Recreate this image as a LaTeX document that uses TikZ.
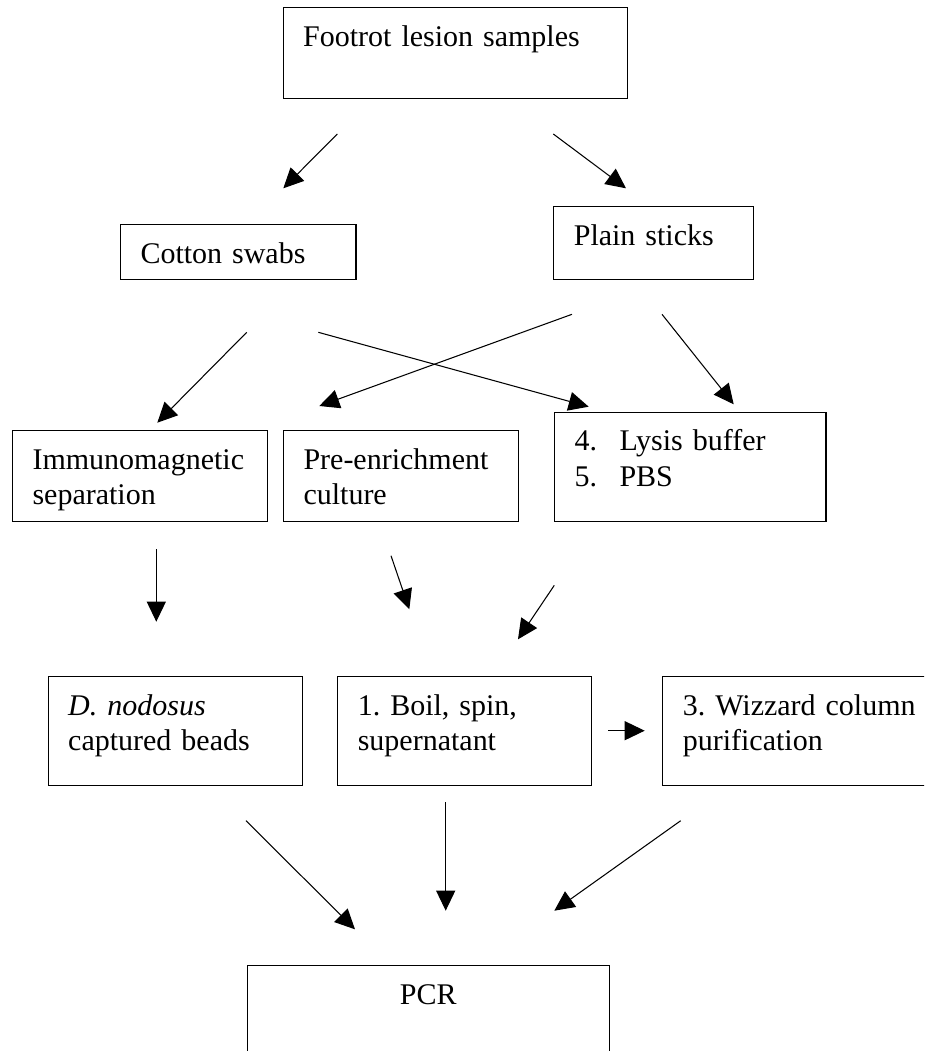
\documentclass[tikz,border=0pt]{standalone}
\usepackage{fontspec}
\setmainfont{Liberation Serif}
\usetikzlibrary{arrows.meta}
\frenchspacing

\begin{document}
\begin{tikzpicture}[x=0.02cm, y=-0.02cm,
  stepbox/.style={draw, line width=0.6pt, anchor=north west, align=left,
    inner xsep=0.4cm, inner ysep=0pt, text height=0.77cm,
    font=\fontsize{17.07pt}{20.1pt}\selectfont},
  arr/.style={-{Triangle[length=0.4cm,width=0.38cm]}, line width=0.6pt}
]
\useasboundingbox (0,0) rectangle (924,1051);
\clip (0,0) rectangle (924,1051);

\node[stepbox, text width=6.08cm, text depth=1.05cm] (lesion) at (282.7,7.3) {Footrot lesion samples};
\node[stepbox, text width=3.91cm, text depth=0.324cm] (cotton) at (120,224) {Cotton swabs};
\node[stepbox, text width=3.19cm, text depth=0.684cm] (sticks) at (553.3,206) {Plain sticks};
\node[stepbox, text width=4.30cm, text depth=1.044cm] (ims) at (12,430) {Immunomagnetic\\separation};
\node[stepbox, text width=3.90cm, text depth=1.044cm] (culture) at (283,430) {Pre-enrichment\\culture};
\node[stepbox, text width=4.63cm, text depth=1.41cm] (lysis) at (554,411.7) {\makebox[0.9cm][l]{4.}Lysis buffer\\\makebox[0.9cm][l]{5.}PBS};
\node[stepbox, text width=4.28cm, text depth=1.404cm] (beads) at (47.7,676) {\textit{D. nodosus}\\captured beads};
\node[stepbox, text width=4.27cm, text depth=1.404cm] (boil) at (337.3,676) {1. Boil, spin,\\supernatant};
\node[stepbox, text width=5.2cm, text depth=1.404cm] (wizard) at (662.3,676) {3. Wizzard column\\purification};
\node[stepbox, align=center, text width=6.44cm, text depth=2cm] (pcr) at (246.7,965.3) {PCR};

\coordinate (lesion-l) at (337.3,134);
\coordinate (lesion-r) at (553.3,134);
\coordinate (cotton-in) at (283.3,188.3);
\coordinate (sticks-in) at (626,188.3);
\coordinate (cotton-l) at (246.7,332.3);
\coordinate (cotton-r) at (318.3,332.3);
\coordinate (sticks-l) at (572,314.3);
\coordinate (sticks-r) at (662,314.3);
\coordinate (ims-in) at (157.3,422.7);
\coordinate (culture-in) at (319.3,406);
\coordinate (lysis-inl) at (588.7,406.7);
\coordinate (lysis-inr) at (733.7,404.3);
\coordinate (ims-out) at (156.3,549.3);
\coordinate (culture-out) at (391,555.7);
\coordinate (lysis-out) at (554.3,585.3);
\coordinate (beads-in) at (156.3,621.7);
\coordinate (boil-inl) at (409.3,609.3);
\coordinate (boil-inr) at (518,639.3);
\coordinate (boil-r) at (608,730.7);
\coordinate (wizard-in) at (644.7,730.7);
\coordinate (beads-out) at (246,820.7);
\coordinate (boil-out) at (445.7,802.3);
\coordinate (wizard-out) at (680.7,820.7);
\coordinate (pcr-inl) at (355,929.3);
\coordinate (pcr-inm) at (445.7,910.7);
\coordinate (pcr-inr) at (554.3,910.7);

\draw[arr] (lesion-l) -- (cotton-in);
\draw[arr] (lesion-r) -- (sticks-in);
\draw[arr] (cotton-l) -- (ims-in);
\draw[arr] (cotton-r) -- (lysis-inl);
\draw[arr] (sticks-l) -- (culture-in);
\draw[arr] (sticks-r) -- (lysis-inr);
\draw[arr] (ims-out) -- (beads-in);
\draw[arr] (culture-out) -- (boil-inl);
\draw[arr] (lysis-out) -- (boil-inr);
\draw[arr] (boil-r) -- (wizard-in);
\draw[arr] (beads-out) -- (pcr-inl);
\draw[arr] (boil-out) -- (pcr-inm);
\draw[arr] (wizard-out) -- (pcr-inr);

\end{tikzpicture}
\end{document}
